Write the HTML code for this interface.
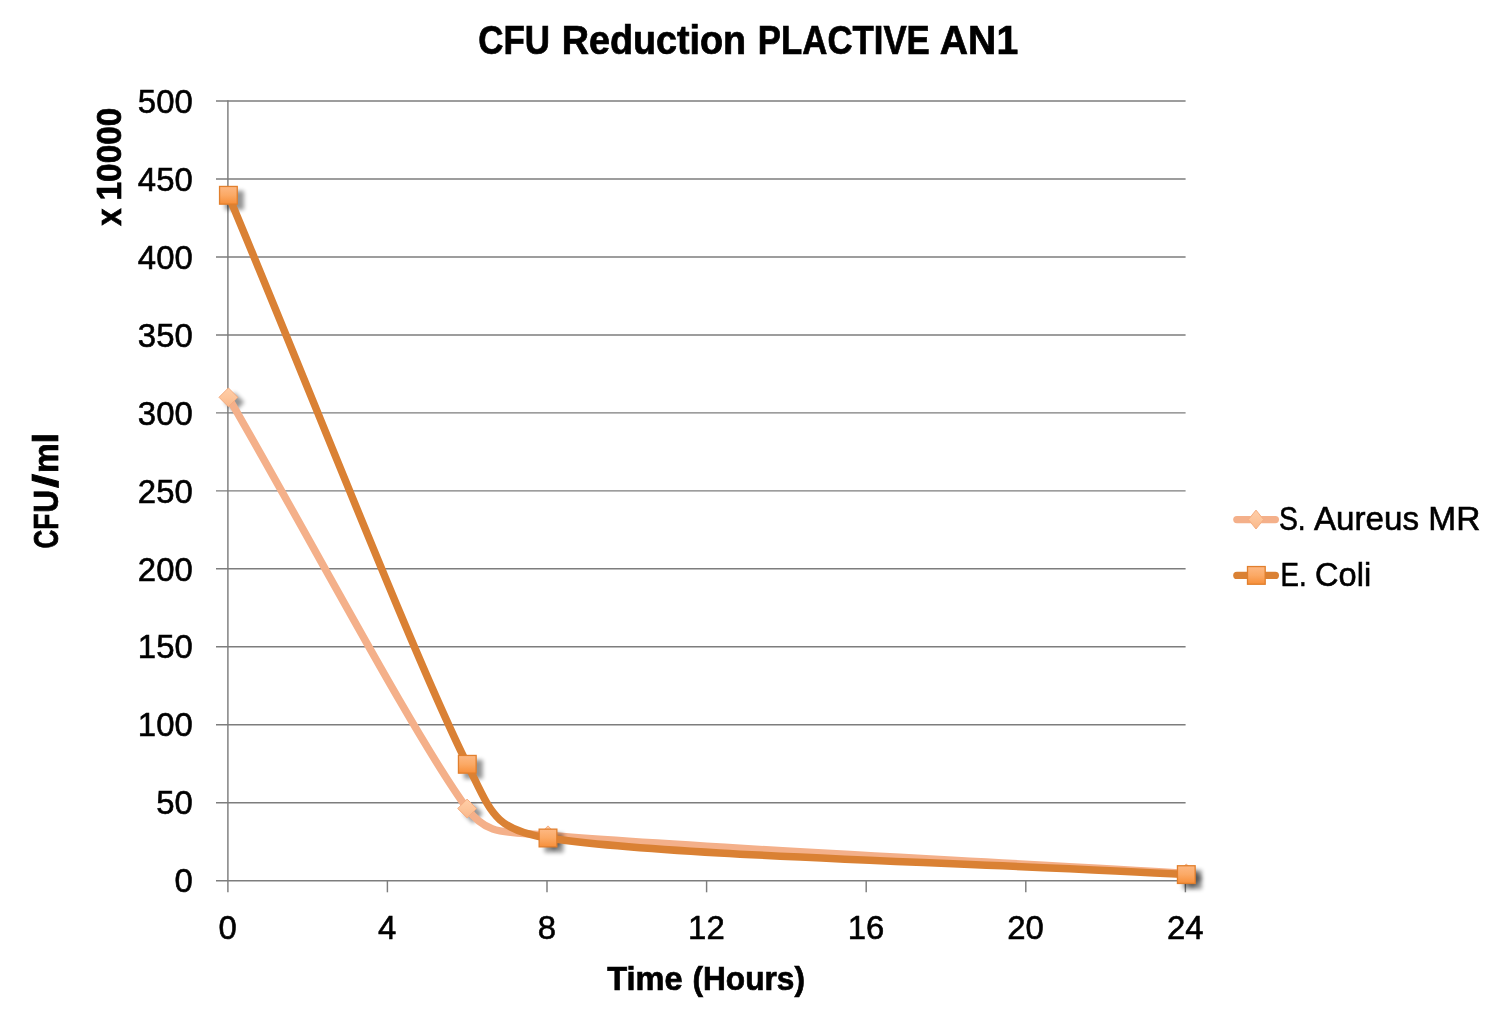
<!DOCTYPE html>
<html lang="en"><head><meta charset="utf-8"><title>CFU Reduction PLACTIVE AN1</title>
<style>
html,body{margin:0;padding:0;background:#fff;}
body{width:1500px;height:1020px;overflow:hidden;}
svg{display:block;}
svg text{font-family:"Liberation Sans",sans-serif;}
</style></head><body>
<svg width="1500" height="1020" viewBox="0 0 1500 1020">
<defs>
<linearGradient id="gsq" x1="0" y1="0" x2="0" y2="1"><stop offset="0" stop-color="#fdb883"/><stop offset="0.5" stop-color="#fba965"/><stop offset="1" stop-color="#f78f3a"/></linearGradient>
<linearGradient id="gdi" x1="0" y1="0" x2="0" y2="1"><stop offset="0" stop-color="#ffcea8"/><stop offset="0.5" stop-color="#fdc59b"/><stop offset="1" stop-color="#f9b88b"/></linearGradient>
<filter id="sh" filterUnits="userSpaceOnUse" x="180" y="150" width="1100" height="780"><feGaussianBlur in="SourceAlpha" stdDeviation="1.9"/><feOffset dx="5.5" dy="5.4"/><feComponentTransfer><feFuncA type="linear" slope="0.42"/></feComponentTransfer></filter>
</defs>
<rect width="1500" height="1020" fill="#fff"/>
<g stroke="#7d7d7d" stroke-width="1.45" fill="none">
<line x1="216" y1="880.70" x2="1185.6" y2="880.70"/>
<line x1="216" y1="802.73" x2="1185.6" y2="802.73"/>
<line x1="216" y1="724.76" x2="1185.6" y2="724.76"/>
<line x1="216" y1="646.79" x2="1185.6" y2="646.79"/>
<line x1="216" y1="568.82" x2="1185.6" y2="568.82"/>
<line x1="216" y1="490.85" x2="1185.6" y2="490.85"/>
<line x1="216" y1="412.88" x2="1185.6" y2="412.88"/>
<line x1="216" y1="334.91" x2="1185.6" y2="334.91"/>
<line x1="216" y1="256.94" x2="1185.6" y2="256.94"/>
<line x1="216" y1="178.97" x2="1185.6" y2="178.97"/>
<line x1="216" y1="101.00" x2="1185.6" y2="101.00"/>
<line x1="227.90" y1="100.30" x2="227.90" y2="892.3"/>
<line x1="387.40" y1="880.70" x2="387.40" y2="892.3"/>
<line x1="547.00" y1="880.70" x2="547.00" y2="892.3"/>
<line x1="706.60" y1="880.70" x2="706.60" y2="892.3"/>
<line x1="866.20" y1="880.70" x2="866.20" y2="892.3"/>
<line x1="1025.80" y1="880.70" x2="1025.80" y2="892.3"/>
<line x1="1185.40" y1="880.70" x2="1185.40" y2="892.3"/>
</g>
<g>
<g filter="url(#sh)" fill="#000"><path d="M228.40,387.40 L238.30,397.30 L228.40,407.20 L218.50,397.30 Z"/><path d="M467.10,798.60 L477.00,808.50 L467.10,818.40 L457.20,808.50 Z"/><path d="M548.00,825.40 L557.90,835.30 L548.00,845.20 L538.10,835.30 Z"/><path d="M1186.30,863.50 L1196.20,873.40 L1186.30,883.30 L1176.40,873.40 Z"/></g>
<path d="M228.40,397.30 C307.97,534.37 413.83,735.50 467.10,808.50 C487.19,836.04 505.56,831.47 548.00,835.30 C667.87,846.12 973.53,860.70 1186.30,873.40" fill="none" stroke="#f4b08a" stroke-width="7.5" stroke-linecap="round" stroke-linejoin="round"/>
<path d="M228.40,387.90 L237.80,397.30 L228.40,406.70 L219.00,397.30 Z" fill="url(#gdi)" stroke="#f5ad80" stroke-width="1"/>
<path d="M467.10,799.10 L476.50,808.50 L467.10,817.90 L457.70,808.50 Z" fill="url(#gdi)" stroke="#f5ad80" stroke-width="1"/>
<path d="M548.00,825.90 L557.40,835.30 L548.00,844.70 L538.60,835.30 Z" fill="url(#gdi)" stroke="#f5ad80" stroke-width="1"/>
<path d="M1186.30,864.00 L1195.70,873.40 L1186.30,882.80 L1176.90,873.40 Z" fill="url(#gdi)" stroke="#f5ad80" stroke-width="1"/>
<g filter="url(#sh)" fill="#000"><rect x="218.90" y="185.80" width="19" height="19"/><rect x="457.80" y="754.80" width="19" height="19"/><rect x="538.50" y="828.50" width="19" height="19"/><rect x="1176.80" y="865.10" width="19" height="19"/></g>
<path d="M228.40,195.30 C308.03,384.97 414.03,657.18 467.30,764.30 C491.63,813.23 493.99,829.71 548.00,838.00 C667.83,856.38 973.53,862.40 1186.30,874.60" fill="none" stroke="#da8134" stroke-width="7.5" stroke-linecap="round" stroke-linejoin="round"/>
<rect x="219.55" y="186.45" width="17.7" height="17.7" fill="url(#gsq)" stroke="#e17f2d" stroke-width="1.3"/>
<rect x="458.45" y="755.45" width="17.7" height="17.7" fill="url(#gsq)" stroke="#e17f2d" stroke-width="1.3"/>
<rect x="539.15" y="829.15" width="17.7" height="17.7" fill="url(#gsq)" stroke="#e17f2d" stroke-width="1.3"/>
<rect x="1177.45" y="865.75" width="17.7" height="17.7" fill="url(#gsq)" stroke="#e17f2d" stroke-width="1.3"/>
</g>
<g>
<line x1="1236.8" y1="519.55" x2="1275.4" y2="519.55" stroke="#f4b08a" stroke-width="7.2" stroke-linecap="round"/>
<path d="M1256,510.1 L1263.6,519.55 L1256,529 L1248.4,519.55 Z" fill="url(#gdi)" stroke="#f5ad80" stroke-width="1"/>
<line x1="1236.8" y1="575.4" x2="1275.4" y2="575.4" stroke="#da8134" stroke-width="7.2" stroke-linecap="round"/>
<rect x="1247.50" y="566.55" width="17.7" height="17.7" fill="url(#gsq)" stroke="#e17f2d" stroke-width="1.3"/>
</g>
<g>
<text transform="translate(174.39,892.40) scale(0.9706,1)" font-size="33.9" fill="#000" stroke="#000" stroke-width="0.6">0</text>
<text transform="translate(156.30,814.43) scale(0.9706,1)" font-size="33.9" fill="#000" stroke="#000" stroke-width="0.6">50</text>
<text transform="translate(137.87,736.46) scale(0.9706,1)" font-size="33.9" fill="#000" stroke="#000" stroke-width="0.6">100</text>
<text transform="translate(137.87,658.49) scale(0.9706,1)" font-size="33.9" fill="#000" stroke="#000" stroke-width="0.6">150</text>
<text transform="translate(137.87,580.52) scale(0.9706,1)" font-size="33.9" fill="#000" stroke="#000" stroke-width="0.6">200</text>
<text transform="translate(137.87,502.55) scale(0.9706,1)" font-size="33.9" fill="#000" stroke="#000" stroke-width="0.6">250</text>
<text transform="translate(137.87,424.58) scale(0.9706,1)" font-size="33.9" fill="#000" stroke="#000" stroke-width="0.6">300</text>
<text transform="translate(137.87,346.61) scale(0.9706,1)" font-size="33.9" fill="#000" stroke="#000" stroke-width="0.6">350</text>
<text transform="translate(137.87,268.64) scale(0.9706,1)" font-size="33.9" fill="#000" stroke="#000" stroke-width="0.6">400</text>
<text transform="translate(137.87,190.67) scale(0.9706,1)" font-size="33.9" fill="#000" stroke="#000" stroke-width="0.6">450</text>
<text transform="translate(137.87,112.70) scale(0.9706,1)" font-size="33.9" fill="#000" stroke="#000" stroke-width="0.6">500</text>
<text transform="translate(218.45,939.10) scale(0.9706,1)" font-size="33.9" fill="#000" stroke="#000" stroke-width="0.6">0</text>
<text transform="translate(378.05,939.10) scale(0.9706,1)" font-size="33.9" fill="#000" stroke="#000" stroke-width="0.6">4</text>
<text transform="translate(537.65,939.10) scale(0.9706,1)" font-size="33.9" fill="#000" stroke="#000" stroke-width="0.6">8</text>
<text transform="translate(688.10,939.10) scale(0.9706,1)" font-size="33.9" fill="#000" stroke="#000" stroke-width="0.6">12</text>
<text transform="translate(847.70,939.10) scale(0.9706,1)" font-size="33.9" fill="#000" stroke="#000" stroke-width="0.6">16</text>
<text transform="translate(1007.30,939.10) scale(0.9706,1)" font-size="33.9" fill="#000" stroke="#000" stroke-width="0.6">20</text>
<text transform="translate(1166.90,939.10) scale(0.9706,1)" font-size="33.9" fill="#000" stroke="#000" stroke-width="0.6">24</text>
</g>
<g>
<text transform="translate(478.20,53.70) scale(0.8763,1)" font-size="39.86" font-weight="bold" fill="#000" stroke="#000" stroke-width="0.7">CFU</text>
<text transform="translate(561.66,53.70) scale(0.9467,1)" font-size="39.86" font-weight="bold" fill="#000" stroke="#000" stroke-width="0.7">Reduction</text>
<text transform="translate(757.87,53.70) scale(0.8725,1)" font-size="39.86" font-weight="bold" fill="#000" stroke="#000" stroke-width="0.7">PLACTIVE</text>
<text transform="translate(939.82,53.70) scale(0.9829,1)" font-size="39.86" font-weight="bold" fill="#000" stroke="#000" stroke-width="0.7">AN1</text>
<text transform="translate(607.27,990.00) scale(0.9600,1)" font-size="33.91" font-weight="bold" fill="#000" stroke="#000" stroke-width="0.7">Time</text>
<text transform="translate(692.42,990.00) scale(0.9340,1)" font-size="33.91" font-weight="bold" fill="#000" stroke="#000" stroke-width="0.7">(Hours)</text>
<text transform="translate(1278.88,529.80) scale(0.8367,1)" font-size="33.91" font-weight="normal" fill="#000" stroke="#000" stroke-width="0.6">S.</text>
<text transform="translate(1313.90,529.80) scale(0.9798,1)" font-size="33.91" font-weight="normal" fill="#000" stroke="#000" stroke-width="0.6">Aureus</text>
<text transform="translate(1428.32,529.80) scale(0.9864,1)" font-size="33.91" font-weight="normal" fill="#000" stroke="#000" stroke-width="0.6">MR</text>
<text transform="translate(1280.49,586.30) scale(0.8157,1)" font-size="33.91" font-weight="normal" fill="#000" stroke="#000" stroke-width="0.6">E.</text>
<text transform="translate(1315.07,586.30) scale(0.9602,1)" font-size="33.91" font-weight="normal" fill="#000" stroke="#000" stroke-width="0.6">Coli</text>
<text transform="translate(121.30,225.81) rotate(-90) scale(0.8962,1)" font-size="34.71" font-weight="bold" fill="#000" stroke="#000" stroke-width="0.7">x</text>
<text transform="translate(121.30,200.51) rotate(-90) scale(0.9631,1)" font-size="34.71" font-weight="bold" fill="#000" stroke="#000" stroke-width="0.7">10000</text>
<text transform="translate(57.8,547.4) rotate(-90)" font-size="34.93" font-weight="bold" fill="#000" stroke="#000" stroke-width="0.7"><tspan x="-1.04" textLength="18.78" lengthAdjust="spacingAndGlyphs">C</tspan><tspan x="17.75" textLength="16.13" lengthAdjust="spacingAndGlyphs">F</tspan><tspan x="34.60" textLength="22.87" lengthAdjust="spacingAndGlyphs">U</tspan><tspan x="59.49" textLength="14.22" lengthAdjust="spacingAndGlyphs">/</tspan><tspan x="74.36" textLength="29.72" lengthAdjust="spacingAndGlyphs">m</tspan><tspan x="103.95" textLength="10.52" lengthAdjust="spacingAndGlyphs">l</tspan></text>
</g>
</svg>
</body></html>
